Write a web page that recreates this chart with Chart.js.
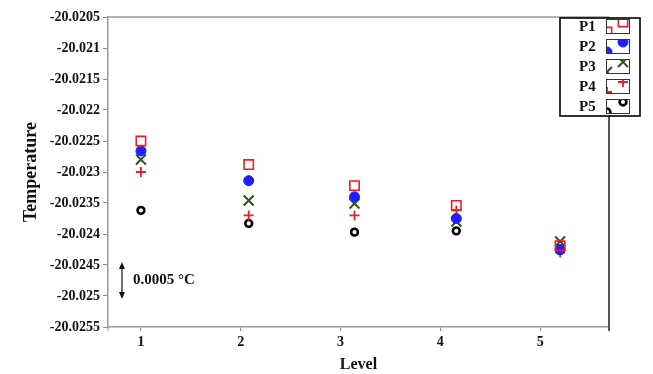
<!DOCTYPE html>
<html>
<head>
<meta charset="utf-8">
<script src="https://cdn.jsdelivr.net/npm/chart.js@4/dist/chart.umd.min.js"></script>
<style>
  html, body { margin: 0; padding: 0; background: #fff; }
  #wrap { width: 653px; height: 374px; }
</style>
</head>
<body>
<div id="wrap"><canvas id="c"></canvas></div>
<script>
// Levels shown on the x axis and where each level's points sit
const levels = [1, 2, 3, 4, 5];
const levelPos = [1.0, 2.08, 3.14, 4.16, 5.2];

// Temperature readings for each probe
const p1 = [-20.02250, -20.02288, -20.02322, -20.02354, -20.02419];
const p2 = [-20.02266, -20.02314, -20.02340, -20.02375, -20.02425];
const p3 = [-20.02280, -20.02346, -20.02351, -20.02380, -20.02412];
const p4 = [-20.02300, -20.02370, -20.02370, -20.02362, -20.02430];
const p5 = [-20.02362, -20.02383, -20.02397, -20.02395, -20.02427];

const seriesNames = ['P1', 'P2', 'P3', 'P4', 'P5'];
const yTicks = [-20.0205, -20.021, -20.0215, -20.022, -20.0225, -20.023,
                -20.0235, -20.024, -20.0245, -20.025, -20.0255];

// Scale bar marking 0.0005 °C
const barFrom = -20.0245;
const barTo = -20.025;
const barX = 0.81;
const barText = '0.0005 °C';

const SERIF = "'Liberation Serif', 'Times New Roman', serif";
const RED = '#ee1c24';
const BLUE = '#1f1fff';
const GREEN = '#2e5419';

const styles = [
  { pointStyle: 'rect', radius: 6.6, borderWidth: 1.6, border: RED, fill: 'rgba(0,0,0,0)' },
  { pointStyle: 'circle', radius: 5, borderWidth: 1, border: BLUE, fill: BLUE },
  { pointStyle: 'crossRot', radius: 7, borderWidth: 2, border: GREEN, fill: GREEN },
  { pointStyle: 'cross', radius: 5, borderWidth: 1.8, border: RED, fill: RED },
  { pointStyle: 'circle', radius: 3.4, borderWidth: 2.6, border: '#000', fill: '#fff' }
];
const values = [p1, p2, p3, p4, p5];

const datasets = values.map((vals, i) => ({
  label: seriesNames[i],
  data: vals.map((v, k) => ({ x: levelPos[k], y: v })),
  showLine: false,
  pointStyle: styles[i].pointStyle,
  pointRadius: styles[i].radius,
  pointBorderWidth: styles[i].borderWidth,
  pointBorderColor: styles[i].border,
  pointBackgroundColor: styles[i].fill
}));

// Small marker painter used for the legend swatches
function paintMark(ctx, st, x, y) {
  const r = st.radius;
  ctx.save();
  ctx.lineWidth = st.borderWidth;
  ctx.strokeStyle = st.border;
  ctx.fillStyle = st.fill;
  ctx.beginPath();
  if (st.pointStyle === 'rect') {
    const s = Math.SQRT1_2 * r;
    ctx.rect(x - s, y - s, 2 * s, 2 * s);
    ctx.stroke();
  } else if (st.pointStyle === 'circle') {
    ctx.arc(x, y, r, 0, Math.PI * 2);
    ctx.fill();
    ctx.stroke();
  } else if (st.pointStyle === 'crossRot') {
    const o = Math.SQRT1_2 * r;
    ctx.moveTo(x - o, y - o); ctx.lineTo(x + o, y + o);
    ctx.moveTo(x - o, y + o); ctx.lineTo(x + o, y - o);
    ctx.stroke();
  } else if (st.pointStyle === 'cross') {
    ctx.moveTo(x, y - r); ctx.lineTo(x, y + r);
    ctx.moveTo(x - r, y); ctx.lineTo(x + r, y);
    ctx.stroke();
  }
  ctx.restore();
}

const framePlugin = {
  id: 'frame',
  afterDatasetsDraw(chart) {
    const { ctx, chartArea: a, scales } = chart;
    ctx.save();
    // top and right edges of the plot box
    ctx.strokeStyle = '#9a9a9a';
    ctx.lineWidth = 1.5;
    ctx.beginPath();
    ctx.moveTo(a.left, a.top); ctx.lineTo(a.right, a.top);
    ctx.stroke();
    ctx.strokeStyle = '#555';
    ctx.lineWidth = 2;
    ctx.beginPath();
    ctx.moveTo(a.right, a.top); ctx.lineTo(a.right, a.bottom + 4);
    ctx.stroke();
    ctx.strokeStyle = '#999';
    ctx.lineWidth = 1;
    ctx.beginPath();
    ctx.moveTo(a.left, a.bottom); ctx.lineTo(a.left, a.bottom + 4);
    ctx.stroke();

    // scale bar with arrow heads
    const x = scales.x.getPixelForValue(barX);
    const y0 = scales.y.getPixelForValue(barFrom);
    const y1 = scales.y.getPixelForValue(barTo);
    ctx.strokeStyle = '#111';
    ctx.fillStyle = '#111';
    ctx.lineWidth = 1.2;
    ctx.beginPath();
    ctx.moveTo(x, y0 + 3); ctx.lineTo(x, y1 - 3);
    ctx.stroke();
    ctx.beginPath();
    ctx.moveTo(x, y0 - 3); ctx.lineTo(x - 3, y0 + 4); ctx.lineTo(x + 3, y0 + 4); ctx.closePath();
    ctx.fill();
    ctx.beginPath();
    ctx.moveTo(x, y1 + 3); ctx.lineTo(x - 3, y1 - 4); ctx.lineTo(x + 3, y1 - 4); ctx.closePath();
    ctx.fill();
    ctx.font = 'bold 15px ' + SERIF;
    ctx.textBaseline = 'middle';
    ctx.textAlign = 'left';
    ctx.fillText(barText, x + 11, (y0 + y1) / 2);

    // legend box
    const lx0 = 560, lx1 = 640, ly0 = 18, ly1 = 116;
    ctx.fillStyle = '#fff';
    ctx.fillRect(lx0, ly0, lx1 - lx0, ly1 - ly0);
    ctx.strokeStyle = '#000';
    ctx.lineWidth = 1.6;
    ctx.strokeRect(lx0, ly0, lx1 - lx0, ly1 - ly0);
    seriesNames.forEach((name, i) => {
      const cy = 26 + i * 20;
      ctx.fillStyle = '#111';
      ctx.font = 'bold 15px ' + SERIF;
      ctx.textAlign = 'left';
      ctx.textBaseline = 'middle';
      ctx.fillText(name, 579, cy + 1);
      const bx = 606, bw = 23, by = cy - 7, bh = 14;
      ctx.save();
      ctx.beginPath();
      ctx.rect(bx, by, bw, bh);
      ctx.clip();
      paintMark(ctx, styles[i], bx + bw - 6, by + 3);
      paintMark(ctx, styles[i], bx + 1, by + bh - 1);
      ctx.restore();
      ctx.strokeStyle = '#333';
      ctx.lineWidth = 1;
      ctx.strokeRect(bx + 0.5, by + 0.5, bw, bh);
    });
    ctx.restore();
  }
};

new Chart(document.getElementById('c'), {
  type: 'scatter',
  data: { datasets },
  options: {
    responsive: true,
    maintainAspectRatio: false,
    animation: false,
    layout: { padding: { top: 17, right: 44, left: 0, bottom: 0 } },
    plugins: { legend: { display: false }, tooltip: { enabled: false } },
    scales: {
      x: {
        type: 'linear',
        min: 0.67,
        max: 5.69,
        afterBuildTicks: s => { s.ticks = levels.map(v => ({ value: v })); },
        afterFit: s => { s.height = 47; },
        grid: { drawOnChartArea: false, tickLength: 4, color: '#888', lineWidth: 1 },
        border: { color: '#999', width: 1.5 },
        ticks: {
          color: '#111',
          padding: 3,
          maxRotation: 0,
          font: { family: SERIF, size: 14, weight: 'bold' },
          callback: v => String(v)
        },
        title: {
          display: true,
          text: 'Level',
          color: '#111',
          padding: { top: 0, bottom: 0 },
          font: { family: SERIF, size: 16, weight: 'bold' }
        }
      },
      y: {
        min: yTicks[yTicks.length - 1],
        max: yTicks[0],
        afterBuildTicks: s => { s.ticks = yTicks.map(v => ({ value: v })); },
        afterFit: s => { s.width = 108; },
        grid: { drawOnChartArea: false, tickLength: 5, color: '#888', lineWidth: 1 },
        border: { color: '#999', width: 1.5 },
        ticks: {
          color: '#111',
          padding: 3,
          font: { family: SERIF, size: 14, weight: 'bold' },
          callback: v => String(Number(v.toFixed(4)))
        },
        title: {
          display: true,
          text: 'Temperature',
          color: '#111',
          padding: { top: 21, bottom: 0 },
          font: { family: SERIF, size: 18, weight: 'bold' }
        }
      }
    }
  },
  plugins: [framePlugin]
});
</script>
</body>
</html>
